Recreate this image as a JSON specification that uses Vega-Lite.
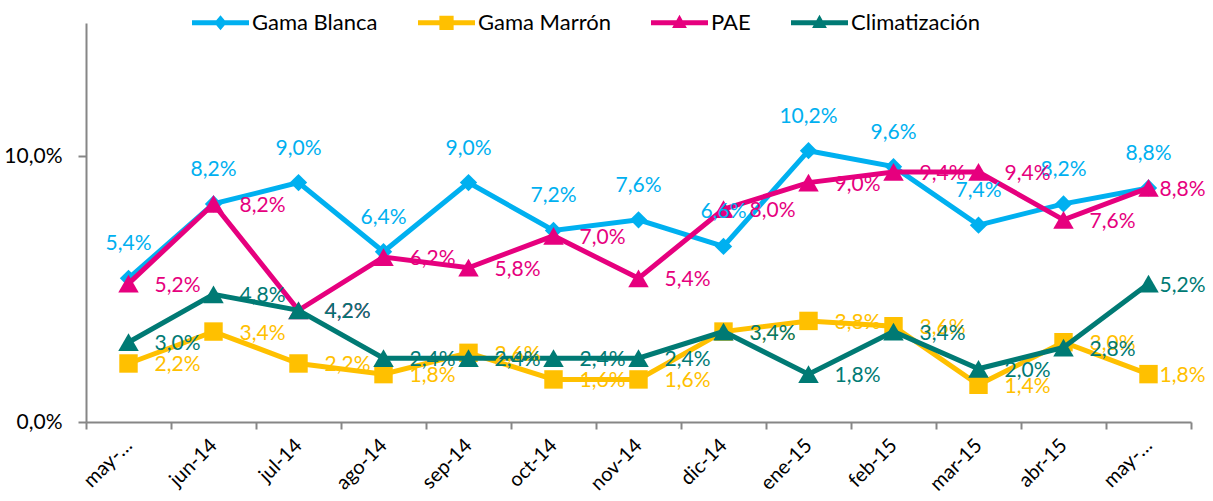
{
  "$schema": "https://vega.github.io/schema/vega-lite/v6.json",
  "width": 1105,
  "height": 399,
  "autosize": {"type": "none"},
  "padding": {"left": 86, "top": 23, "right": 22, "bottom": 79},
  "background": "white",
  "config": {
    "view": {"stroke": null},
    "font": "Lato",
    "locale": {"number": {"decimal": ",", "thousands": ".", "grouping": [3], "currency": ["", " €"]}}
  },
  "data": {
    "values": [
      {"mes": "may-14", "serie": "Gama Blanca", "v": 0.054},
      {"mes": "jun-14", "serie": "Gama Blanca", "v": 0.082},
      {"mes": "jul-14", "serie": "Gama Blanca", "v": 0.090},
      {"mes": "ago-14", "serie": "Gama Blanca", "v": 0.064},
      {"mes": "sep-14", "serie": "Gama Blanca", "v": 0.090},
      {"mes": "oct-14", "serie": "Gama Blanca", "v": 0.072},
      {"mes": "nov-14", "serie": "Gama Blanca", "v": 0.076},
      {"mes": "dic-14", "serie": "Gama Blanca", "v": 0.066},
      {"mes": "ene-15", "serie": "Gama Blanca", "v": 0.102},
      {"mes": "feb-15", "serie": "Gama Blanca", "v": 0.096},
      {"mes": "mar-15", "serie": "Gama Blanca", "v": 0.074},
      {"mes": "abr-15", "serie": "Gama Blanca", "v": 0.082},
      {"mes": "may-15", "serie": "Gama Blanca", "v": 0.088},
      {"mes": "may-14", "serie": "Gama Marrón", "v": 0.022},
      {"mes": "jun-14", "serie": "Gama Marrón", "v": 0.034},
      {"mes": "jul-14", "serie": "Gama Marrón", "v": 0.022},
      {"mes": "ago-14", "serie": "Gama Marrón", "v": 0.018},
      {"mes": "sep-14", "serie": "Gama Marrón", "v": 0.026},
      {"mes": "oct-14", "serie": "Gama Marrón", "v": 0.016},
      {"mes": "nov-14", "serie": "Gama Marrón", "v": 0.016},
      {"mes": "dic-14", "serie": "Gama Marrón", "v": 0.034},
      {"mes": "ene-15", "serie": "Gama Marrón", "v": 0.038},
      {"mes": "feb-15", "serie": "Gama Marrón", "v": 0.036},
      {"mes": "mar-15", "serie": "Gama Marrón", "v": 0.014},
      {"mes": "abr-15", "serie": "Gama Marrón", "v": 0.030},
      {"mes": "may-15", "serie": "Gama Marrón", "v": 0.018},
      {"mes": "may-14", "serie": "PAE", "v": 0.052},
      {"mes": "jun-14", "serie": "PAE", "v": 0.082},
      {"mes": "jul-14", "serie": "PAE", "v": 0.042},
      {"mes": "ago-14", "serie": "PAE", "v": 0.062},
      {"mes": "sep-14", "serie": "PAE", "v": 0.058},
      {"mes": "oct-14", "serie": "PAE", "v": 0.070},
      {"mes": "nov-14", "serie": "PAE", "v": 0.054},
      {"mes": "dic-14", "serie": "PAE", "v": 0.080},
      {"mes": "ene-15", "serie": "PAE", "v": 0.090},
      {"mes": "feb-15", "serie": "PAE", "v": 0.094},
      {"mes": "mar-15", "serie": "PAE", "v": 0.094},
      {"mes": "abr-15", "serie": "PAE", "v": 0.076},
      {"mes": "may-15", "serie": "PAE", "v": 0.088},
      {"mes": "may-14", "serie": "Climatización", "v": 0.030},
      {"mes": "jun-14", "serie": "Climatización", "v": 0.048},
      {"mes": "jul-14", "serie": "Climatización", "v": 0.042},
      {"mes": "ago-14", "serie": "Climatización", "v": 0.024},
      {"mes": "sep-14", "serie": "Climatización", "v": 0.024},
      {"mes": "oct-14", "serie": "Climatización", "v": 0.024},
      {"mes": "nov-14", "serie": "Climatización", "v": 0.024},
      {"mes": "dic-14", "serie": "Climatización", "v": 0.034},
      {"mes": "ene-15", "serie": "Climatización", "v": 0.018},
      {"mes": "feb-15", "serie": "Climatización", "v": 0.034},
      {"mes": "mar-15", "serie": "Climatización", "v": 0.020},
      {"mes": "abr-15", "serie": "Climatización", "v": 0.028},
      {"mes": "may-15", "serie": "Climatización", "v": 0.052}
    ]
  },
  "encoding": {
    "x": {
      "field": "mes", "type": "ordinal", "sort": null, "title": null,
      "scale": {"type": "band", "paddingInner": 0, "paddingOuter": 0},
      "axis": {
        "tickBand": "extent",
        "domainColor": "#868686", "domainWidth": 2,
        "tickColor": "#868686", "tickWidth": 2, "tickSize": 7,
        "labelAngle": -45, "labelAlign": "right", "labelBaseline": "middle",
        "labelFont": "Lato", "labelFontSize": 20, "labelColor": "#000000",
        "labelPadding": 13,
        "labelExpr": "indexof(datum.label, 'may') == 0 ? 'may-…' : datum.label"
      }
    },
    "y": {
      "field": "v", "type": "quantitative", "title": null,
      "scale": {"domain": [0, 0.15], "nice": false},
      "axis": {
        "values": [0, 0.1], "format": ".1%", "grid": false,
        "domainColor": "#868686", "domainWidth": 2,
        "tickColor": "#868686", "tickWidth": 2, "tickSize": 8,
        "labelFont": "Lato", "labelFontSize": 21, "labelColor": "#000000",
        "labelPadding": 16
      }
    },
    "color": {
      "field": "serie", "type": "nominal",
      "scale": {
        "domain": ["Gama Blanca", "Gama Marrón", "PAE", "Climatización"],
        "range": ["#00B0F0", "#FFC000", "#E6007E", "#007A74"]
      },
      "legend": {
        "orient": "none", "legendX": 106, "legendY": -29,
        "direction": "horizontal", "columns": 4, "columnPadding": 40,
        "title": null, "symbolSize": 3249, "labelOffset": 3,
        "labelFont": "Lato", "labelFontSize": 22, "labelColor": "#000000",
        "labelLimit": 400,
        "encode": {
          "symbols": {
            "update": {
              "shape": {"signal": "'M-1,-0.088L1,-0.088L1,0.088L-1,0.088Z ' + (datum.value == 'Gama Blanca' ? 'M0,-0.26L0.22,0L0,0.26L-0.22,0Z' : datum.value == 'Gama Marrón' ? 'M-0.25,-0.25L0.25,-0.25L0.25,0.25L-0.25,0.25Z' : 'M0,-0.28L0.26,0.18L-0.26,0.18Z')"},
              "fill": {"scale": "color", "field": "value"},
              "fillOpacity": {"value": 1},
              "strokeWidth": {"value": 0},
              "opacity": {"value": 1}
            }
          }
        }
      }
    }
  },
  "layer": [
    {
      "transform": [{"filter": "datum.serie == 'Gama Blanca'"}],
      "mark": {"type": "line", "strokeWidth": 5}
    },
    {
      "transform": [{"filter": "datum.serie == 'Gama Blanca'"}],
      "mark": {"type": "point", "filled": true, "opacity": 1, "shape": "diamond", "size": 300}
    },
    {
      "transform": [{"filter": "datum.serie == 'Gama Marrón'"}],
      "mark": {"type": "line", "strokeWidth": 5}
    },
    {
      "transform": [{"filter": "datum.serie == 'Gama Marrón'"}],
      "mark": {"type": "point", "filled": true, "opacity": 1, "shape": "square", "size": 340}
    },
    {
      "transform": [{"filter": "datum.serie == 'PAE'"}],
      "mark": {"type": "line", "strokeWidth": 5}
    },
    {
      "transform": [{"filter": "datum.serie == 'PAE'"}],
      "mark": {"type": "point", "filled": true, "opacity": 1, "shape": "triangle-up", "size": 420}
    },
    {
      "transform": [{"filter": "datum.serie == 'Climatización'"}],
      "mark": {"type": "line", "strokeWidth": 5}
    },
    {
      "transform": [{"filter": "datum.serie == 'Climatización'"}],
      "mark": {"type": "point", "filled": true, "opacity": 1, "shape": "triangle-up", "size": 420}
    },
    {
      "transform": [{"filter": "datum.serie == 'Gama Blanca'"}],
      "mark": {"type": "text", "dy": -34, "align": "center", "baseline": "middle", "font": "Lato", "fontSize": 21},
      "encoding": {
        "text": {"field": "v", "type": "quantitative", "format": ".1%"}
      }
    },
    {
      "transform": [{"filter": "datum.serie != 'Gama Blanca' && datum.mes != 'may-15'"}],
      "mark": {"type": "text", "dx": 26, "dy": 2, "align": "left", "baseline": "middle", "font": "Lato", "fontSize": 21},
      "encoding": {
        "text": {"field": "v", "type": "quantitative", "format": ".1%"}
      }
    },
    {
      "transform": [{"filter": "datum.serie != 'Gama Blanca' && datum.mes == 'may-15'"}],
      "mark": {"type": "text", "dx": 11, "dy": 2, "align": "left", "baseline": "middle", "font": "Lato", "fontSize": 21},
      "encoding": {
        "text": {"field": "v", "type": "quantitative", "format": ".1%"}
      }
    }
  ]
}
